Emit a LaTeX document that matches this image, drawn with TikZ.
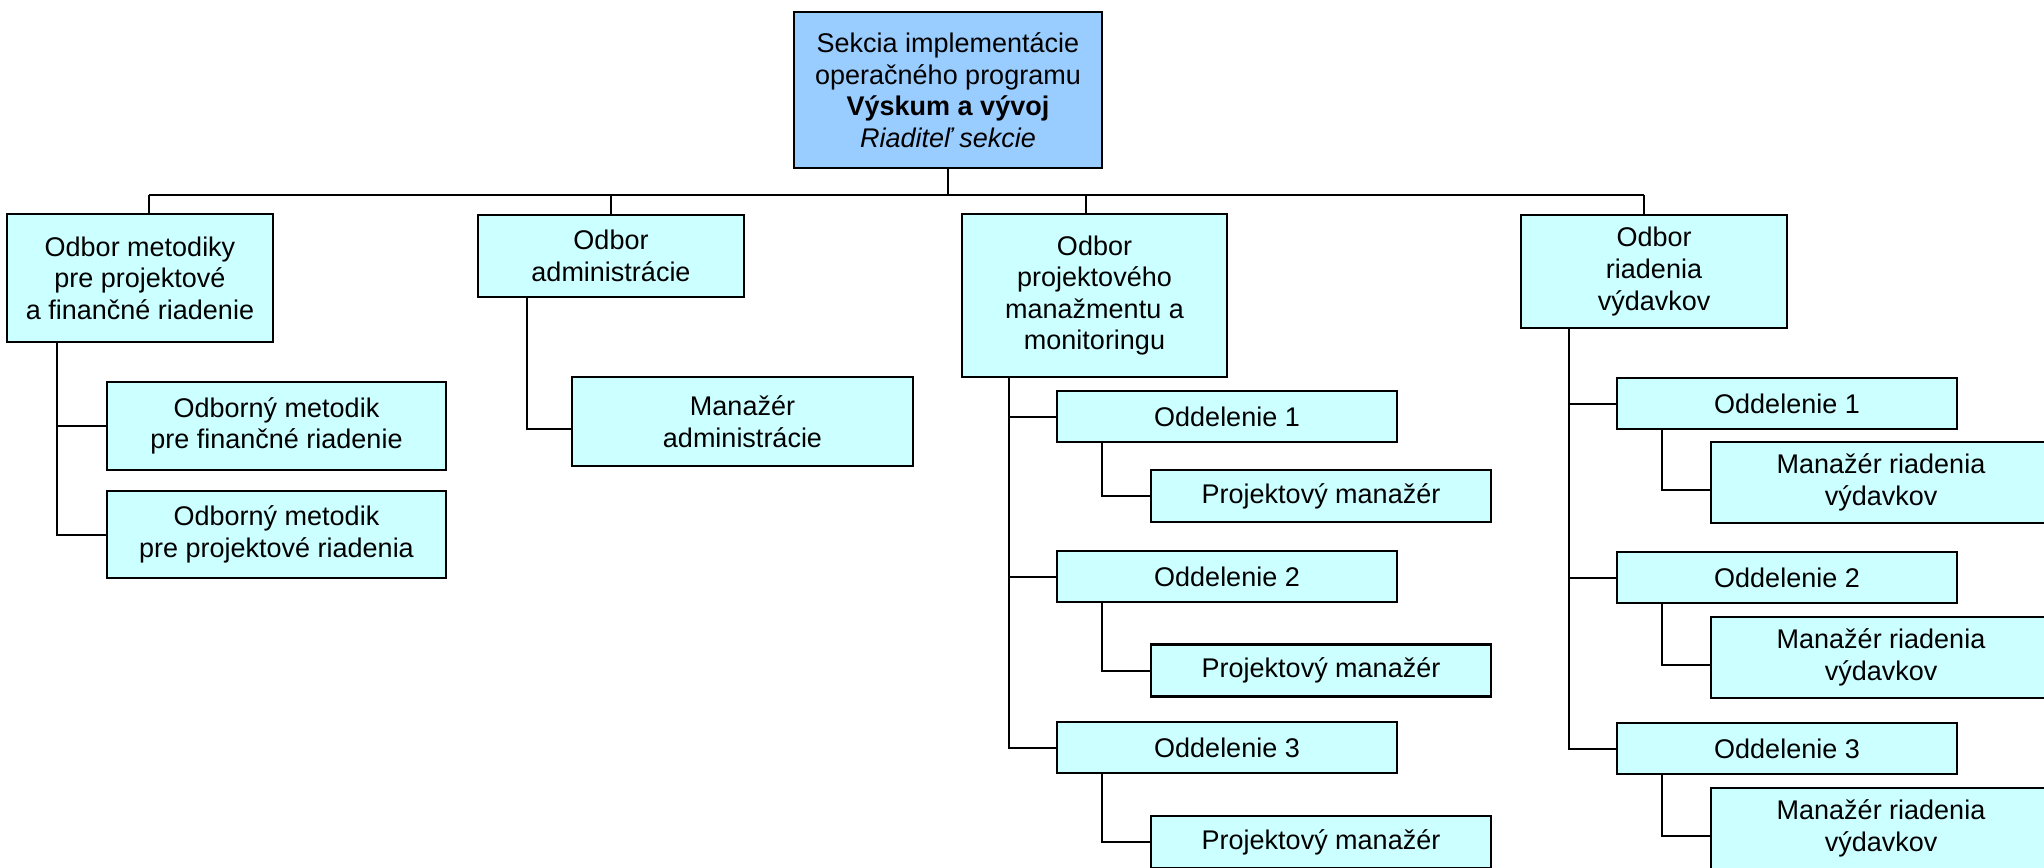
\documentclass[tikz,border=0pt]{standalone}
\usepackage{fontspec}
\setmainfont{Liberation Sans}
\definecolor{topfill}{HTML}{99CCFF}
\definecolor{boxfill}{HTML}{CCFFFF}
\tikzset{
  orgbox/.style={draw=black, line width=1.3pt, fill=boxfill, rectangle, inner sep=0pt, align=center,
    font=\fontsize{13.5pt}{15.8pt}\selectfont},
  conn/.style={draw=black, line width=1pt}
}
\begin{document}
\begin{tikzpicture}[x=0.5pt,y=-0.5pt]
\useasboundingbox (0,0) rectangle (2044,867);
\fill[white] (0,0) rectangle (2044,867);

% top
\node[orgbox, fill=topfill, minimum width=154pt, minimum height=78pt] (top) at (948,90)
  {Sekcia implementácie\\operačného programu\\\textbf{Výskum a vývoj}\\\textit{Riaditeľ sekcie}};

% level 1
\node[orgbox, minimum width=133pt, minimum height=64pt] (b1) at (140,278)
  {Odbor metodiky\\pre projektové\\a finančné riadenie};
\node[orgbox, minimum width=133pt, minimum height=41pt] (b2) at (611,256)
  {Odbor\\administrácie};
\node[orgbox, minimum width=132.5pt, minimum height=81.5pt] (b3) at (1094.5,295.5)
  {Odbor\\projektového\\manažmentu a\\monitoringu};
\node[orgbox, minimum width=133pt, minimum height=56.5pt] (b4) at (1654,271.5)
  {Odbor\\riadenia\\výdavkov};

% left group
\node[orgbox, minimum width=169.5pt, minimum height=44pt] (s1a) at (276.5,426)
  {Odborný metodik\\pre finančné riadenie};
\node[orgbox, minimum width=169.5pt, minimum height=43.5pt] (s1b) at (276.5,534.5)
  {Odborný metodik\\pre projektové riadenia};

% admin
\node[orgbox, minimum width=170.5pt, minimum height=44.5pt] (s2) at (742.5,421.5)
  {Manažér\\administrácie};

% middle group
\node[orgbox, minimum width=170pt, minimum height=25.5pt] (o31) at (1227,416.5) {Oddelenie 1};
\node[orgbox, minimum width=170pt, minimum height=26pt] (p31) at (1321,496) {Projektový manažér};
\node[orgbox, minimum width=170pt, minimum height=25.5pt] (o32) at (1227,576.5) {Oddelenie 2};
\node[orgbox, minimum width=170pt, minimum height=26pt] (p32) at (1321,670.5) {Projektový manažér};
\node[orgbox, minimum width=170pt, minimum height=25.5pt] (o33) at (1227,747.5) {Oddelenie 3};
\node[orgbox, minimum width=170pt, minimum height=26pt] (p33) at (1321,842) {Projektový manažér};

% right group
\node[orgbox, minimum width=170pt, minimum height=25.5pt] (o41) at (1787,403.5) {Oddelenie 1};
\node[orgbox, minimum width=170pt, minimum height=40.5pt] (m41) at (1881,482.5) {Manažér riadenia\\výdavkov};
\node[orgbox, minimum width=170pt, minimum height=25.5pt] (o42) at (1787,577.5) {Oddelenie 2};
\node[orgbox, minimum width=170pt, minimum height=40.5pt] (m42) at (1881,657.5) {Manažér riadenia\\výdavkov};
\node[orgbox, minimum width=170pt, minimum height=25.5pt] (o43) at (1787,748.5) {Oddelenie 3};
\node[orgbox, minimum width=170pt, minimum height=40.5pt] (m43) at (1881,828.5) {Manažér riadenia\\výdavkov};

% bus
\coordinate (busL) at (149,195);
\coordinate (busR) at (1644,195);
\coordinate (d3) at (1086,195);
\draw[conn] (top.south) -- (top.south |- busL);
\draw[conn] (busL) -- (busR);
\draw[conn] (busL) -- (busL |- b1.north);
\draw[conn] (b2.north |- busL) -- (b2.north);
\draw[conn] (d3) -- (d3 |- b3.north);
\draw[conn] (busR) -- (busR |- b4.north);

% left group connectors
\coordinate (v1) at (57,0);
\draw[conn] (b1.south -| v1) |- (s1b.west);
\draw[conn] (v1 |- s1a.west) -- (s1a.west);

% admin connector
\coordinate (v2) at (527,0);
\draw[conn] (b2.south -| v2) |- ([yshift=-3.75pt]s2.west);

% middle connectors
\coordinate (v3) at (1009,0);
\coordinate (w3) at (1102,0);
\draw[conn] (b3.south -| v3) |- (o33.west);
\draw[conn] (v3 |- o31.west) -- (o31.west);
\draw[conn] (v3 |- o32.west) -- (o32.west);
\draw[conn] (o31.south -| w3) |- (p31.west);
\draw[conn] (o32.south -| w3) |- (p32.west);
\draw[conn] (o33.south -| w3) |- (p33.west);

% right connectors
\coordinate (v4) at (1569,0);
\coordinate (w4) at (1662,0);
\draw[conn] (b4.south -| v4) |- (o43.west);
\draw[conn] (v4 |- o41.west) -- (o41.west);
\draw[conn] (v4 |- o42.west) -- (o42.west);
\draw[conn] (o41.south -| w4) |- ([yshift=-3.75pt]m41.west);
\draw[conn] (o42.south -| w4) |- ([yshift=-3.75pt]m42.west);
\draw[conn] (o43.south -| w4) |- ([yshift=-3.75pt]m43.west);
\end{tikzpicture}
\end{document}
